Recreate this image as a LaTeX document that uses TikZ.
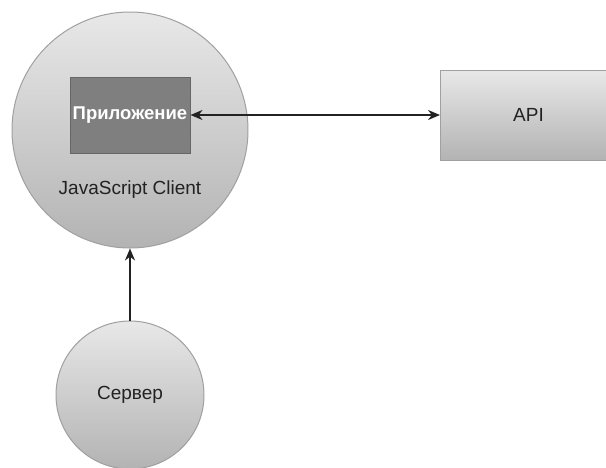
\documentclass[tikz,border=0pt]{standalone}
\usepackage{fontspec}
\setmainfont{Liberation Sans}
\usetikzlibrary{arrows.meta}
\definecolor{shadetop}{HTML}{E8E8E8}
\definecolor{shadebot}{HTML}{B3B3B3}
\definecolor{edgegray}{HTML}{A0A0A0}
\definecolor{appfill}{HTML}{7F7F7F}
\definecolor{appedge}{HTML}{666666}
\definecolor{inkgray}{HTML}{222222}

\tikzset{
  shaded/.style={draw=edgegray, line width=1pt, top color=shadetop, bottom color=shadebot,
                 text=inkgray, font=\fontsize{19}{23}\selectfont},
  bubble/.style={shaded, circle, inner sep=0pt},
  apibox/.style={shaded, rectangle, inner sep=0pt},
  appbox/.style={rectangle, draw=appedge, fill=appfill, line width=1pt, text=white,
                 font=\fontsize{18.5}{22}\selectfont\bfseries, inner sep=0pt},
  caption/.style={text=inkgray, font=\fontsize{19}{23}\selectfont},
  conn/.style={draw=inkgray, line width=2pt}
}

\begin{document}
\begin{tikzpicture}[x=1pt, y=-1pt, >={Stealth[length=12pt, width=10pt]}]
  \useasboundingbox (0,0) rectangle (606,467);
  % Client side
  \node[bubble, minimum size=236] (client) at (130,130) {};
  \node[appbox, minimum width=120, minimum height=76] (app) at (130,115) {Приложение};
  \node[caption] (jsc) at (130,190) {JavaScript Client};
  % API and server
  \node[apibox, anchor=west, minimum width=176, minimum height=90] (api) at (440,115) {API};
  \node[bubble, minimum size=148] (server) at (130,395) {Сервер};
  % Connections
  \draw[conn, <->] (app.east) -- (api.west);
  \draw[conn, ->] (server.north) -- (client.south);
\end{tikzpicture}
\end{document}
